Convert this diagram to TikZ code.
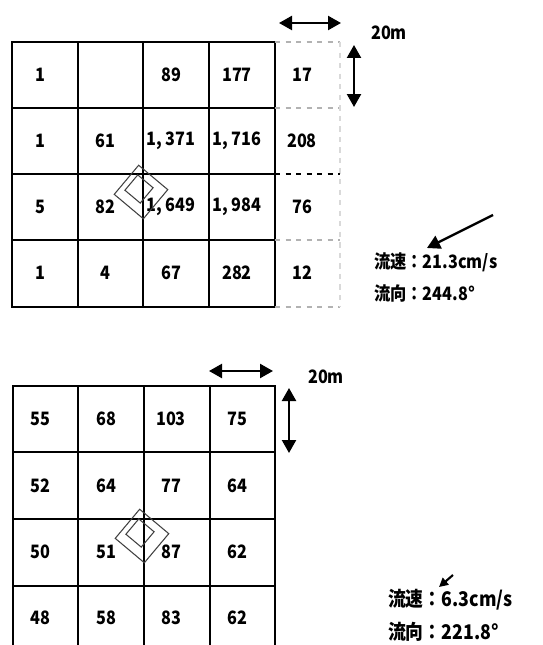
\documentclass[tikz,border=0pt]{standalone}
\usepackage{fontspec}
\setmainfont{Noto Sans CJK JP}[FakeStretch=0.88]
\usetikzlibrary{arrows.meta}

\begin{document}
\begin{tikzpicture}[x=0.02cm, y=-0.02cm, every node/.style={font=\fontsize{10.5}{12}\selectfont\bfseries}, >={Triangle[length=2.6mm, width=2.8mm]}, cell/.style={line width=1pt}, ext/.style={black!30, dashed, line width=0.6pt}, scalebar/.style={<->, line width=1.3pt}, site/.style={draw, black!75, line width=0.6pt, inner sep=0pt}, flow/.style={anchor=west}]
	\useasboundingbox (0,0) rectangle (542,645);
	% upper grid
	\draw[cell] (12,42) rectangle (275,307);
	\draw[cell] (78,42) -- (78,307) (143,42) -- (143,307) (209,42) -- (209,307);
	\draw[cell] (12,108) -- (275,108) (12,174) -- (275,174) (12,240) -- (275,240);
	\draw[ext] (275,42) -- (340,42) (275,108) -- (340,108) (275,240) -- (340,240) (275,307) -- (340,307);
	\draw[ext, black!15] (340,42) -- (340,307);
	\draw[dashed, line width=0.8pt] (275,174) -- (340,174);
	\node (a11) at (40,75) {1};
	\node (a13) at (171,75) {89};
	\node (a14) at (237,75) {177};
	\node (a15) at (302,75) {17};
	\node (a21) at (40,141) {1};
	\node (a22) at (105,141) {61};
	\node (a23) at (171,141) {1,\,371};
	\node (a24) at (237,141) {1,\,716};
	\node (a25) at (302,141) {208};
	\node (a31) at (40,207) {5};
	\node (a32) at (105,207) {82};
	\node (a33) at (171,207) {1,\,649};
	\node (a34) at (237,207) {1,\,984};
	\node (a35) at (302,207) {76};
	\node (a41) at (40,273) {1};
	\node (a42) at (105,273) {4};
	\node (a43) at (171,273) {67};
	\node (a44) at (237,273) {282};
	\node (a45) at (302,273) {12};
	\node[site, minimum size=0.76cm, rotate=50] (siteA) at (141,192) {};
	\node[site, minimum size=0.4cm, rotate=50] (siteAin) at (139,189) {};
	% upper scale
	\coordinate (hA1) at (279,23);
	\coordinate (hA2) at (341,23);
	\draw[scalebar] (hA1) -- (hA2);
	\coordinate (vA1) at (354,45);
	\coordinate (vA2) at (354,107);
	\draw[scalebar] (vA1) -- (vA2);
	\node (lenA) at (389,33) {20m};
	% upper current
	\coordinate (cA1) at (493,215);
	\coordinate (cA2) at (427,248);
	\draw[->, line width=1.3pt] (cA1) -- (cA2);
	\node[flow] (spdA) at (368,262) {流速：21.3cm/s};
	\node[flow] (dirA) at (368,293) {流向：244.8°};
	% lower grid
	\draw[cell] (13,645) -- (13,386) -- (275,386) -- (275,645);
	\draw[cell] (78,386) -- (78,645) (144,386) -- (144,645) (210,386) -- (210,645);
	\draw[cell] (13,452) -- (275,452) (13,519) -- (275,519) (13,586) -- (275,586);
	\node (b11) at (40,419) {55};
	\node (b12) at (106,419) {68};
	\node (b13) at (171,419) {103};
	\node (b14) at (237,419) {75};
	\node (b21) at (40,486) {52};
	\node (b22) at (106,486) {64};
	\node (b23) at (171,486) {77};
	\node (b24) at (237,486) {64};
	\node (b31) at (40,552) {50};
	\node (b32) at (106,552) {51};
	\node (b33) at (171,552) {87};
	\node (b34) at (237,552) {62};
	\node (b41) at (40,618) {48};
	\node (b42) at (106,618) {58};
	\node (b43) at (171,618) {83};
	\node (b44) at (237,618) {62};
	\node[site, minimum size=0.76cm, rotate=50] (siteB) at (142,536) {};
	\node[site, minimum size=0.4cm, rotate=50] (siteBin) at (140,533) {};
	% lower scale
	\coordinate (hB1) at (209,371);
	\coordinate (hB2) at (273,371);
	\draw[scalebar] (hB1) -- (hB2);
	\coordinate (vB1) at (289,388);
	\coordinate (vB2) at (289,453);
	\draw[scalebar] (vB1) -- (vB2);
	\node (lenB) at (326,377) {20m};
	% lower current
	\coordinate (cB1) at (453,575);
	\coordinate (cB2) at (439,587);
	\draw[->, line width=1.2pt, >={Triangle[length=1.8mm, width=1.8mm]}] (cB1) -- (cB2);
	\node[flow, font=\fontsize{11.5}{13}\selectfont\bfseries] (spdB) at (382,600) {流速：6.3cm/s};
	\node[flow, font=\fontsize{11.5}{13}\selectfont\bfseries] (dirB) at (382,632) {流向：221.8°};
\end{tikzpicture}
\end{document}
